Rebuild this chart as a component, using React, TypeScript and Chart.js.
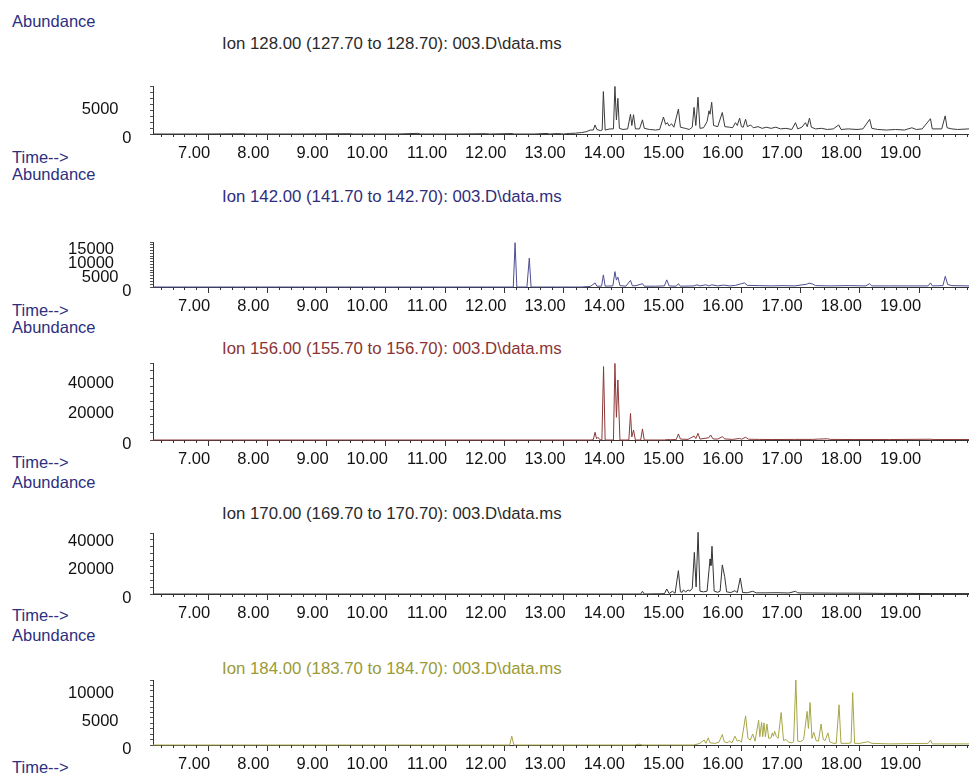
import React, { useEffect, useRef } from "react";
import { Chart, registerables } from "chart.js";
Chart.register(...registerables);

const FONT = '"Liberation Sans", Arial, sans-serif';
const X_MIN = 6.07;
const X_MAX = 19.84;

// retention time (min), abundance
const ion128: [number, number][] = [
  [6.07, 0], [6.9, 0], [7.6, 40], [7.65, 0], [8.5, 0], [9.4, 50], [9.45, 0], [10.2, 0], [10.54, 120], [10.58, 0],
  [11.2, 0], [11.7, 60], [11.75, 0], [12.13, 80], [12.17, 0], [12.5, 0], [12.72, 100], [12.76, 0], [12.9, 80], [13.0, 0],
  [13.1, 100], [13.2, 150], [13.3, 250], [13.38, 400], [13.45, 700], [13.5, 700], [13.53, 1600], [13.56, 800], [13.62, 600],
  [13.65, 700], [13.67, 7500], [13.7, 700], [13.78, 900], [13.84, 900], [13.865, 8400], [13.89, 2500], [13.915, 6300],
  [13.94, 1000], [14.0, 800], [14.08, 900], [14.128, 3500], [14.15, 1500], [14.179, 3400], [14.21, 900], [14.28, 900],
  [14.33, 2500], [14.36, 1000], [14.45, 800], [14.55, 700], [14.62, 800], [14.684, 3000], [14.72, 1700], [14.75, 2000],
  [14.78, 1400], [14.82, 1800], [14.86, 1200], [14.936, 4400], [14.97, 1200], [15.05, 1000], [15.12, 800], [15.17, 1200],
  [15.2, 4700], [15.23, 1500], [15.267, 6500], [15.3, 1000], [15.36, 1100], [15.42, 2200], [15.453, 4100], [15.47, 3500],
  [15.498, 5600], [15.53, 1500], [15.6, 1300], [15.677, 3800], [15.72, 1300], [15.8, 1200], [15.85, 1100], [15.9, 2000],
  [15.93, 1500], [15.969, 2800], [16.0, 1300], [16.03, 1200], [16.07, 2600], [16.1, 1300], [16.154, 1600], [16.2, 1100],
  [16.28, 1300], [16.35, 1000], [16.42, 1200], [16.5, 1000], [16.58, 1200], [16.66, 900], [16.75, 1000], [16.85, 800],
  [16.912, 2000], [16.95, 900], [17.02, 1200], [17.08, 2000], [17.11, 1300], [17.148, 2800], [17.18, 1200], [17.25, 900],
  [17.35, 1000], [17.45, 800], [17.55, 900], [17.642, 1600], [17.68, 800], [17.8, 900], [17.95, 800], [18.05, 900],
  [18.164, 2600], [18.2, 1000], [18.3, 800], [18.45, 700], [18.6, 800], [18.75, 700], [18.876, 1100], [18.95, 800],
  [19.05, 900], [19.19, 2700], [19.22, 900], [19.3, 900], [19.38, 900], [19.438, 3200], [19.47, 1100], [19.55, 900],
  [19.65, 800], [19.84, 900],
];

const ion142: [number, number][] = [
  [6.07, 0], [8.0, 0], [10.0, 0], [12.1, 0], [12.15, 0], [12.18, 16100], [12.21, 0], [12.38, 0], [12.42, 10500],
  [12.45, 0], [13.3, 0], [13.45, 200], [13.53, 1500], [13.56, 300], [13.64, 300], [13.67, 4400], [13.7, 300],
  [13.83, 400], [13.865, 5600], [13.89, 2500], [13.915, 3600], [13.95, 500], [14.05, 300], [14.128, 2400], [14.16, 400],
  [14.22, 500], [14.33, 1200], [14.36, 300], [14.55, 300], [14.7, 400], [14.74, 2600], [14.78, 400], [14.9, 300],
  [14.936, 1200], [14.97, 300], [15.2, 400], [15.25, 800], [15.3, 400], [15.4, 800], [15.45, 400], [15.5, 800],
  [15.6, 400], [15.7, 700], [15.8, 400], [15.9, 600], [16.0, 1200], [16.05, 1500], [16.1, 600], [16.3, 500],
  [16.5, 400], [16.7, 500], [16.9, 400], [17.1, 1000], [17.14, 1400], [17.2, 1100], [17.25, 500], [17.5, 400],
  [17.8, 500], [18.1, 400], [18.16, 1200], [18.2, 400], [18.5, 400], [18.8, 400], [19.15, 400], [19.19, 1500],
  [19.22, 400], [19.4, 500], [19.44, 3900], [19.48, 900], [19.55, 500], [19.84, 400],
];

const ion156: [number, number][] = [
  [6.07, 0], [9.0, 0], [12.0, 0], [13.45, 0], [13.5, 200], [13.53, 5100], [13.555, 800], [13.58, 1800], [13.61, 200],
  [13.645, 0], [13.673, 48500], [13.7, 0], [13.84, 0], [13.865, 50500], [13.89, 15000], [13.915, 39600], [13.95, 0],
  [14.1, 0], [14.128, 17600], [14.15, 2000], [14.179, 6600], [14.21, 0], [14.3, 0], [14.33, 7300], [14.36, 0],
  [14.7, 0], [14.75, 300], [14.8, 200], [14.9, 300], [14.936, 4000], [14.97, 600], [15.1, 400], [15.2, 2600],
  [15.23, 900], [15.267, 4400], [15.3, 600], [15.45, 1500], [15.48, 3300], [15.52, 700], [15.6, 600], [15.677, 2200],
  [15.72, 700], [15.85, 400], [15.97, 1000], [16.0, 500], [16.07, 1800], [16.12, 500], [16.3, 400], [16.5, 300],
  [16.9, 400], [17.2, 400], [17.3, 600], [17.45, 800], [17.5, 400], [17.9, 300], [18.5, 300], [19.2, 500],
  [19.25, 300], [19.84, 300],
];

const ion170: [number, number][] = [
  [6.07, 0], [9.0, 0], [12.0, 0], [14.3, 0], [14.33, 1900], [14.36, 0], [14.7, 200], [14.74, 3500], [14.78, 300],
  [14.835, 1900], [14.88, 500], [14.936, 16400], [14.97, 1500], [15.0, 1200], [15.02, 2800], [15.06, 1500],
  [15.1, 2800], [15.13, 2000], [15.17, 4000], [15.205, 29200], [15.235, 5000], [15.268, 43300], [15.3, 2000],
  [15.36, 1500], [15.42, 2000], [15.47, 24600], [15.485, 20000], [15.503, 33500], [15.54, 2000], [15.6, 1200],
  [15.64, 2000], [15.677, 20400], [15.717, 12200], [15.75, 1500], [15.82, 1000], [15.89, 2300], [15.93, 1000],
  [15.98, 11200], [16.02, 1000], [16.1, 900], [16.19, 1900], [16.25, 800], [16.4, 800], [16.6, 900], [16.8, 700],
  [16.912, 1900], [16.95, 800], [17.2, 700], [17.6, 600], [18.0, 600], [18.4, 400], [18.8, 400], [19.2, 300],
  [19.84, 300],
];

const ion184: [number, number][] = [
  [6.07, 0], [9.0, 0], [12.09, 0], [12.124, 1600], [12.16, 0], [14.2, 0], [14.27, 150], [14.33, 0], [15.2, 0],
  [15.3, 300], [15.37, 900], [15.4, 300], [15.44, 1300], [15.47, 400], [15.55, 300], [15.62, 500], [15.677, 1900],
  [15.71, 600], [15.76, 400], [15.8, 700], [15.84, 400], [15.89, 1600], [15.93, 700], [15.96, 900], [16.0, 500],
  [16.07, 5300], [16.11, 1200], [16.15, 900], [16.19, 2000], [16.23, 700], [16.29, 4500], [16.31, 1500],
  [16.34, 4100], [16.36, 1500], [16.38, 4000], [16.405, 1500], [16.43, 3800], [16.46, 1200], [16.5, 1300],
  [16.52, 2200], [16.54, 1600], [16.56, 2500], [16.59, 1500], [16.62, 1200], [16.67, 5900], [16.71, 800],
  [16.75, 1000], [16.8, 500], [16.85, 400], [16.88, 600], [16.918, 11800], [16.95, 700], [17.0, 600], [17.05, 1000],
  [17.108, 6100], [17.13, 3000], [17.158, 7700], [17.19, 1200], [17.22, 2300], [17.26, 800], [17.3, 700],
  [17.344, 3800], [17.38, 1000], [17.41, 800], [17.46, 2200], [17.49, 600], [17.55, 300], [17.6, 300],
  [17.647, 7300], [17.68, 300], [17.8, 300], [17.85, 400], [17.877, 9500], [17.91, 300], [18.0, 300], [18.14, 600],
  [18.2, 300], [18.5, 200], [19.15, 300], [19.19, 900], [19.22, 200], [19.84, 200],
];

const titles = [
  "Ion 128.00 (127.70 to 128.70): 003.D\\data.ms",
  "Ion 142.00 (141.70 to 142.70): 003.D\\data.ms",
  "Ion 156.00 (155.70 to 156.70): 003.D\\data.ms",
  "Ion 170.00 (169.70 to 170.70): 003.D\\data.ms",
  "Ion 184.00 (183.70 to 184.70): 003.D\\data.ms",
];
const yMaxes = [8480, 16370, 50800, 42800, 11800];
const ySteps = [1000, 1000, 5000, 5000, 1000];
const yLabels128 = [0, 5000];
const yLabels142 = [0, 5000, 10000, 15000];
const yLabels156 = [0, 20000, 40000];
const yLabels170 = [0, 20000, 40000];
const yLabels184 = [0, 5000, 10000];
const xTickStep = 1;
const xMinorStep = 0.2;

type PanelCfg = {
  data: [number, number][];
  title: string;
  yMax: number;
  yStep: number;
  yLabels: number[];
  lineColor: string;
  titleColor: string;
  axisTop: number;
  baseline: number;
  titleY: number;
  abundY: number;
  timeY: number;
};

const NAVY = "#2d2f7e";

const panels: PanelCfg[] = [
  { data: ion128, title: titles[0], yMax: yMaxes[0], yStep: ySteps[0], yLabels: yLabels128, lineColor: "#3a3a3a", titleColor: "#2a2a2a", axisTop: 86, baseline: 134, titleY: 43.5, abundY: 20.5, timeY: 157 },
  { data: ion142, title: titles[1], yMax: yMaxes[1], yStep: ySteps[1], yLabels: yLabels142, lineColor: "#4d4d92", titleColor: "#2e2e7c", axisTop: 242, baseline: 287, titleY: 196.5, abundY: 173.5, timeY: 310 },
  { data: ion156, title: titles[2], yMax: yMaxes[2], yStep: ySteps[2], yLabels: yLabels156, lineColor: "#8c3838", titleColor: "#8a3434", axisTop: 363, baseline: 440, titleY: 348.5, abundY: 326.5, timeY: 462 },
  { data: ion170, title: titles[3], yMax: yMaxes[3], yStep: ySteps[3], yLabels: yLabels170, lineColor: "#333333", titleColor: "#2a2a2a", axisTop: 533, baseline: 594, titleY: 513.5, abundY: 481.5, timeY: 615 },
  { data: ion184, title: titles[4], yMax: yMaxes[4], yStep: ySteps[4], yLabels: yLabels184, lineColor: "#a6a646", titleColor: "#9a9a36", axisTop: 680, baseline: 745, titleY: 668.5, abundY: 635, timeY: 767 },
];

const PAD_TOP = 10;
const X_AXIS_H = 30;
const Y_AXIS_W = 153;

function Panel({ cfg }: { cfg: PanelCfg }) {
  const ref = useRef<HTMLCanvasElement | null>(null);
  const areaH = cfg.baseline - cfg.axisTop;
  const H = PAD_TOP + areaH + X_AXIS_H;
  useEffect(() => {
    if (!ref.current) return;
    const decor = {
      id: "decor",
      afterDraw(chart: any) {
        const { ctx } = chart;
        const xs = chart.scales.x;
        const ys = chart.scales.y;
        ctx.save();
        ctx.strokeStyle = "#333";
        ctx.lineWidth = 1;
        const start = Math.ceil(xs.min / xMinorStep - 1e-9);
        for (let k = start; k * xMinorStep <= xs.max; k++) {
          const v = k * xMinorStep;
          if (Math.abs(v - Math.round(v)) < 1e-6) continue;
          const px = Math.round(xs.getPixelForValue(v)) + 0.5;
          ctx.beginPath();
          ctx.moveTo(px, ys.bottom);
          ctx.lineTo(px, ys.bottom + 3);
          ctx.stroke();
        }
        ctx.fillStyle = "#111";
        ctx.font = `16.5px ${FONT}`;
        ctx.textAlign = "right";
        ctx.textBaseline = "middle";
        for (const v of cfg.yLabels) {
          const s = String(v);
          const right = s.length >= 5 ? 114 : s.length >= 2 ? 118.5 : 131.5;
          ctx.fillText(s, right, ys.getPixelForValue(v) + 4);
        }
        ctx.restore();
      },
    };
    const chart = new Chart(ref.current, {
      type: "line",
      data: {
        datasets: [
          {
            data: cfg.data.map(([x, y]) => ({ x, y })),
            borderColor: cfg.lineColor,
            borderWidth: 1,
            pointRadius: 0,
            tension: 0,
            fill: false,
            clip: false as any,
          },
        ],
      },
      options: {
        responsive: false,
        animation: false,
        layout: { padding: { top: PAD_TOP, left: 0, right: 0, bottom: 0 } },
        plugins: { legend: { display: false }, tooltip: { enabled: false }, title: { display: false } },
        scales: {
          x: {
            type: "linear",
            min: X_MIN,
            max: X_MAX,
            afterFit: (s: any) => { s.height = X_AXIS_H; },
            border: { display: true, color: "#333", width: 1 },
            grid: { drawOnChartArea: false, drawTicks: true, tickLength: 6, color: "#333" },
            ticks: {
              stepSize: xTickStep,
              includeBounds: false,
              autoSkip: false,
              maxRotation: 0,
              align: "end",
              labelOffset: 2,
              padding: 4,
              color: "#111",
              font: { family: FONT, size: 16.5 },
              callback: (v: any) => Number(v).toFixed(2),
            },
          },
          y: {
            type: "linear",
            min: 0,
            max: cfg.yMax,
            afterFit: (s: any) => { s.width = Y_AXIS_W; },
            border: { display: true, color: "#333", width: 1 },
            grid: { drawOnChartArea: false, drawTicks: true, tickLength: 3, color: "#555" },
            ticks: { stepSize: cfg.yStep, includeBounds: false, display: false },
          },
        },
      },
      plugins: [decor],
    } as any);
    return () => chart.destroy();
  }, [cfg]);
  return (
    <canvas
      ref={ref}
      width={969}
      height={H}
      style={{ position: "absolute", left: 0, top: cfg.axisTop - PAD_TOP, width: 969, height: H }}
    />
  );
}

const textStyle = (top: number, left: number, color: string, size = 16.5): React.CSSProperties => ({
  position: "absolute",
  left,
  top: top - 10,
  lineHeight: "20px",
  fontSize: size,
  fontFamily: FONT,
  color,
  whiteSpace: "nowrap",
});

export default function App() {
  return (
    <div style={{ position: "absolute", left: 0, top: 0, width: 969, height: 776, background: "#fff", overflow: "hidden" }}>
      {panels.map((p, i) => (
        <React.Fragment key={i}>
          <div style={textStyle(p.abundY, 12, NAVY)}>Abundance</div>
          <div style={textStyle(p.titleY, 222, p.titleColor, 16.8)}>{p.title}</div>
          <div style={textStyle(p.timeY, 12, NAVY)}>Time--&gt;</div>
          <Panel cfg={p} />
        </React.Fragment>
      ))}
    </div>
  );
}
